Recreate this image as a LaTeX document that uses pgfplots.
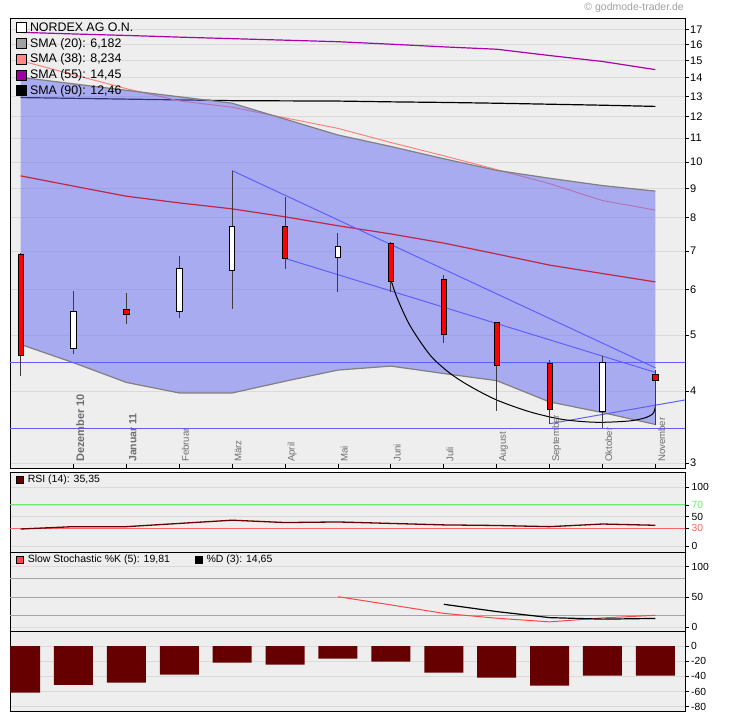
\documentclass[border=0pt]{standalone}
\usepackage{pgfplots}
\pgfplotsset{compat=1.18}
\usepackage{fontspec}
\setmainfont{Liberation Sans}
\definecolor{bg}{RGB}{238,238,238}
\definecolor{gridc}{RGB}{218,218,218}
\definecolor{bandfill}{RGB}{102,106,242}
\definecolor{bandedge}{RGB}{128,128,128}
\definecolor{sma20}{RGB}{190,40,70}
\definecolor{sma38}{RGB}{255,130,130}
\definecolor{sma55}{RGB}{170,0,170}
\definecolor{trend}{RGB}{95,95,255}
\definecolor{wick}{RGB}{60,60,60}
\definecolor{dred}{RGB}{102,0,0}
\definecolor{lgray}{RGB}{160,160,160}
\definecolor{lsalmon}{RGB}{255,136,136}
\definecolor{lpurple}{RGB}{160,0,160}
\definecolor{tgray}{RGB}{110,110,110}
\definecolor{rsigreen}{RGB}{110,235,110}
\definecolor{rsired}{RGB}{255,100,100}
\definecolor{stochk}{RGB}{255,70,70}
\definecolor{stochlev}{RGB}{165,165,165}
\definecolor{wm}{RGB}{160,160,160}
\pgfplotsset{
  panel/.style={
    scale only axis, width=675pt, anchor=north west,
    xmin=-0.2, xmax=12.56,
    axis background/.style={fill=bg},
    axis line style={black, line width=1pt},
    tick align=outside, major tick length=4pt,
    tick style={black, line width=0.8pt},
    ytick pos=right, yticklabel pos=right,
    ymajorgrids, major grid style={gridc, line width=0.8pt},
    yticklabel style={inner sep=1pt, anchor=west},
    legend cell align=left,
  },
}
\begin{document}
\begin{tikzpicture}[x=1pt,y=1pt]
\path[use as bounding box] (0,0) rectangle (730,-721);
\node[anchor=east, text=wm, font=\fontsize{10.5}{12}\selectfont, inner sep=0pt] at (684,-8) {© godmode-trader.de};

% ---------------- main price panel ----------------
\begin{axis}[panel, at={(10pt,-18pt)}, height=450pt,
  ymode=log, ymin=2.94, ymax=17.79,
  ytick={3,4,5,6,7,8,9,10,11,12,13,14,15,16,17},
  yticklabels={3,4,5,6,7,8,9,10,11,12,13,14,15,16,17},
  minor ytick={},
  xtick={1,2,...,12}, xticklabels={}, xtick pos=left,
  xtick style={yshift=4pt},
  tick label style={font=\fontsize{11}{13}\selectfont},
  legend style={at={(axis description cs:0,1)}, anchor=north west, draw=none, fill=none,
    inner xsep=6pt, inner ysep=4pt, row sep=5pt, font=\fontsize{12.4}{14}\selectfont,
    nodes={inner sep=0pt}, /tikz/every odd column/.style={column sep=3pt}},
  legend image code/.code={\draw[#1, draw=black, line width=0.8pt] (0.5pt,-5pt) rectangle (10.5pt,5pt);},
]
\addlegendimage{fill=white}\addlegendentry{NORDEX AG O.N.}
\addlegendimage{fill=lgray}\addlegendentry{SMA (20): 6,182}
\addlegendimage{fill=lsalmon}\addlegendentry{SMA (38): 8,234}
\addlegendimage{fill=lpurple}\addlegendentry{SMA (55): 14,45}
\addlegendimage{fill=black}\addlegendentry{SMA (90): 12,46}

% SMA lines under the band
\addplot[sma55, line width=1.2pt, forget plot] coordinates {(0,16.8) (1,16.69) (2,16.59) (3,16.48) (4,16.38) (5,16.28) (6,16.18) (7,16.02) (8,15.85) (9,15.70) (10,15.31) (11,14.95) (12,14.47)};
\addplot[black, line width=1.2pt, forget plot] coordinates {(0,12.94) (1,12.90) (2,12.86) (3,12.82) (4,12.78) (5,12.77) (6,12.76) (7,12.72) (8,12.69) (9,12.65) (10,12.60) (11,12.55) (12,12.49)};
\addplot[sma38, line width=1pt, forget plot] coordinates {(0,15.0) (1,14.18) (2,13.41) (3,12.77) (4,12.45) (5,11.93) (6,11.44) (7,10.81) (8,10.25) (9,9.70) (10,9.17) (11,8.57) (12,8.25)};

% Bollinger band
\addplot[draw=none, fill=bandfill, fill opacity=0.5, forget plot] coordinates {(0,14.03) (1,13.67) (2,13.32) (3,12.98) (4,12.65) (5,11.87) (6,11.14) (7,10.64) (8,10.13) (9,9.67) (10,9.37) (11,9.10) (12,8.90) (12,3.50) (11,3.67) (10,3.83) (9,4.17) (8,4.29) (7,4.42) (6,4.35) (5,4.16) (4,3.97) (3,3.97) (2,4.14) (1,4.48) (0,4.82)} -- cycle;
\addplot[bandedge, line width=1.2pt, forget plot] coordinates {(0,14.03) (1,13.67) (2,13.32) (3,12.98) (4,12.65) (5,11.87) (6,11.14) (7,10.64) (8,10.13) (9,9.67) (10,9.37) (11,9.10) (12,8.90)};
\addplot[bandedge, line width=1.2pt, forget plot] coordinates {(0,4.82) (1,4.48) (2,4.14) (3,3.97) (4,3.97) (5,4.16) (6,4.35) (7,4.42) (8,4.29) (9,4.17) (10,3.83) (11,3.67) (12,3.50)};

% SMA 20
\addplot[sma20, line width=1.2pt, forget plot] coordinates {(0,9.46) (1,9.08) (2,8.72) (3,8.49) (4,8.29) (5,8.03) (6,7.75) (7,7.50) (8,7.23) (9,6.92) (10,6.62) (11,6.40) (12,6.19)};

% trend lines
\addplot[trend, line width=1pt, forget plot] coordinates {(-0.2,4.49) (12.56,4.49)};
\addplot[trend, line width=1pt, forget plot] coordinates {(-0.2,3.45) (12.56,3.45)};
\addplot[trend, line width=1pt, forget plot] coordinates {(4,9.66) (12,4.39)};
\addplot[trend, line width=1pt, forget plot] coordinates {(5,6.80) (12,4.31)};
\addplot[trend, line width=1pt, forget plot] coordinates {(10,3.51) (12.56,3.86)};

% rounding curve
\addplot[black, line width=1pt, smooth, forget plot] coordinates {(7.0,6.25) (7.11,5.83) (7.36,5.2) (7.74,4.62) (8.11,4.30) (8.49,4.08) (9.0,3.86) (9.63,3.68) (10.25,3.57) (10.89,3.53) (11.52,3.55) (11.83,3.60) (11.96,3.66) (12.0,3.76)};

% candles: wicks
\addplot[wick, line width=1pt, forget plot] coordinates {(0,6.95) (0,4.24)};
\addplot[wick, line width=1pt, forget plot] coordinates {(1,5.97) (1,4.64)};
\addplot[wick, line width=1pt, forget plot] coordinates {(2,5.92) (2,5.22)};
\addplot[wick, line width=1pt, forget plot] coordinates {(3,6.87) (3,5.36)};
\addplot[wick, line width=1pt, forget plot] coordinates {(4,9.66) (4,5.56)};
\addplot[wick, line width=1pt, forget plot] coordinates {(5,8.68) (5,6.53)};
\addplot[wick, line width=1pt, forget plot] coordinates {(6,7.53) (6,5.95)};
\addplot[wick, line width=1pt, forget plot] coordinates {(7,7.27) (7,5.95)};
\addplot[wick, line width=1pt, forget plot] coordinates {(8,6.36) (8,4.84)};
\addplot[wick, line width=1pt, forget plot] coordinates {(9,5.28) (9,3.70)};
\addplot[wick, line width=1pt, forget plot] coordinates {(10,4.53) (10,3.50)};
\addplot[wick, line width=1pt, forget plot] coordinates {(11,4.60) (11,3.45)};
\addplot[wick, line width=1pt, forget plot] coordinates {(12,4.35) (12,3.49)};
% candles: bodies
\addplot[fill=red, draw=black, line width=0.8pt, forget plot] coordinates {(-0.05,6.90) (0.05,6.90) (0.05,4.62) (-0.05,4.62)} -- cycle;
\addplot[fill=white, draw=black, line width=0.8pt, forget plot] coordinates {(0.95,4.75) (1.05,4.75) (1.05,5.50) (0.95,5.50)} -- cycle;
\addplot[fill=red, draw=black, line width=0.8pt, forget plot] coordinates {(1.95,5.55) (2.05,5.55) (2.05,5.43) (1.95,5.43)} -- cycle;
\addplot[fill=white, draw=black, line width=0.8pt, forget plot] coordinates {(2.95,5.50) (3.05,5.50) (3.05,6.54) (2.95,6.54)} -- cycle;
\addplot[fill=white, draw=black, line width=0.8pt, forget plot] coordinates {(3.95,6.49) (4.05,6.49) (4.05,7.72) (3.95,7.72)} -- cycle;
\addplot[fill=red, draw=black, line width=0.8pt, forget plot] coordinates {(4.95,7.72) (5.05,7.72) (5.05,6.80) (4.95,6.80)} -- cycle;
\addplot[fill=white, draw=black, line width=0.8pt, forget plot] coordinates {(5.95,6.83) (6.05,6.83) (6.05,7.14) (5.95,7.14)} -- cycle;
\addplot[fill=red, draw=black, line width=0.8pt, forget plot] coordinates {(6.95,7.23) (7.05,7.23) (7.05,6.21) (6.95,6.21)} -- cycle;
\addplot[fill=red, draw=black, line width=0.8pt, forget plot] coordinates {(7.95,6.26) (8.05,6.26) (8.05,5.02) (7.95,5.02)} -- cycle;
\addplot[fill=red, draw=black, line width=0.8pt, forget plot] coordinates {(8.95,5.26) (9.05,5.26) (9.05,4.43) (8.95,4.43)} -- cycle;
\addplot[fill=red, draw=black, line width=0.8pt, forget plot] coordinates {(9.95,4.47) (10.05,4.47) (10.05,3.72) (9.95,3.72)} -- cycle;
\addplot[fill=white, draw=black, line width=0.8pt, forget plot] coordinates {(10.95,3.68) (11.05,3.68) (11.05,4.48) (10.95,4.48)} -- cycle;
\addplot[fill=red, draw=black, line width=0.8pt, forget plot] coordinates {(11.95,4.28) (12.05,4.28) (12.05,4.18) (11.95,4.18)} -- cycle;

% month labels
\begin{scope}[every node/.style={rotate=90, anchor=north west, inner sep=0pt, text=tgray, font=\fontsize{9.6}{12}\selectfont}]
\node[font=\fontsize{11}{12}\selectfont\bfseries] at (axis cs:1.047,3.012) {Dezember 10};
\node[font=\fontsize{10.5}{12}\selectfont\bfseries] at (axis cs:2.047,3.012) {Januar 11};
\node at (axis cs:3.047,3.012) {Februar};
\node at (axis cs:4.047,3.012) {März};
\node at (axis cs:5.047,3.012) {April};
\node at (axis cs:6.047,3.012) {Mai};
\node at (axis cs:7.047,3.012) {Juni};
\node at (axis cs:8.047,3.012) {Juli};
\node at (axis cs:9.047,3.012) {August};
\node at (axis cs:10.047,3.012) {September};
\node at (axis cs:11.047,3.012) {Oktober};
\node at (axis cs:12.047,3.012) {November};
\end{scope}
\end{axis}

% ---------------- RSI panel ----------------
\begin{axis}[panel, at={(10pt,-472pt)}, height=80pt, ymin=-10.2, ymax=126.1,
  xtick=\empty, ytick={0,30,50,70,100},
  yticklabels={0,\textcolor{rsired}{30},50,\textcolor{rsigreen}{70},100},
  tick label style={font=\fontsize{10.3}{12}\selectfont},
  yticklabel style={xshift=1.5pt},
  legend style={at={(axis description cs:0,1)}, anchor=north west, draw=none, fill=none,
    inner xsep=6pt, inner ysep=3pt, font=\fontsize{10.5}{12}\selectfont,
    nodes={inner sep=0pt}, /tikz/every odd column/.style={column sep=4pt}},
  legend image code/.code={\draw[#1, draw=black, line width=0.6pt] (0.5pt,-3.5pt) rectangle (7.5pt,3.5pt);},
]
\addlegendimage{fill=dred}\addlegendentry{RSI (14): 35,35}
\addplot[rsigreen, line width=1pt, forget plot] coordinates {(-0.2,70) (12.56,70)};
\addplot[rsired, line width=1pt, forget plot] coordinates {(-0.2,30) (12.56,30)};
\addplot[dred, line width=1.3pt, forget plot] coordinates {(0,29) (1,33) (2,33) (3,38.5) (4,44) (5,40) (6,41) (7,38.5) (8,36) (9,35) (10,33) (11,37.5) (12,35.35)};
\end{axis}

% ---------------- Stochastic panel ----------------
\begin{axis}[panel, at={(10pt,-552pt)}, height=79pt, ymin=-6.1, ymax=124.3,
  xtick=\empty, ytick={0,50,100}, yticklabels={0,50,100},
  tick label style={font=\fontsize{10.3}{12}\selectfont},
  yticklabel style={xshift=1.5pt},
  legend columns=2,
  legend style={at={(axis description cs:0,1)}, anchor=north west, draw=none, fill=none,
    inner xsep=6pt, inner ysep=3pt, font=\fontsize{10.5}{12}\selectfont,
    nodes={inner sep=0pt}, /tikz/every odd column/.style={column sep=4pt},
    /tikz/every even column/.style={column sep=25pt}},
  legend image code/.code={\draw[#1, draw=black, line width=0.6pt] (0.5pt,-3.5pt) rectangle (7.5pt,3.5pt);},
]
\addlegendimage{fill=stochk}\addlegendentry{Slow Stochastic \%K (5): 19,81}
\addlegendimage{fill=black}\addlegendentry{\%D (3): 14,65}
\addplot[stochlev, line width=1pt, forget plot] coordinates {(-0.2,80) (12.56,80)};
\addplot[stochlev, line width=1pt, forget plot] coordinates {(-0.2,50) (12.56,50)};
\addplot[stochlev, line width=1pt, forget plot] coordinates {(-0.2,20) (12.56,20)};
\addplot[stochk, line width=1pt, forget plot] coordinates {(6,50.5) (7,37) (8,23) (9,15) (10,9) (11,15.5) (12,19.81)};
\addplot[black, line width=1.2pt, forget plot] coordinates {(8,38) (9,26) (10,16) (11,13.5) (12,14.65)};
\end{axis}

% ---------------- bar panel ----------------
\begin{axis}[panel, at={(10pt,-631pt)}, height=80pt, ymin=-85.6, ymax=19.8,
  xtick=\empty, ytick={-80,-60,-40,-20,0}, yticklabels={-80,-60,-40,-20,0},
  tick label style={font=\fontsize{10.3}{12}\selectfont},
  yticklabel style={xshift=1pt},
]
\addplot[ybar, bar width=39pt, bar shift=0pt, fill=dred, draw=none, forget plot] coordinates {(0,-61.4) (1,-51.3) (2,-48.2) (3,-37.7) (4,-21.9) (5,-24.6) (6,-16.7) (7,-20.6) (8,-35) (9,-41.6) (10,-52.2) (11,-39) (12,-39)};
\end{axis}
\end{tikzpicture}
\end{document}
